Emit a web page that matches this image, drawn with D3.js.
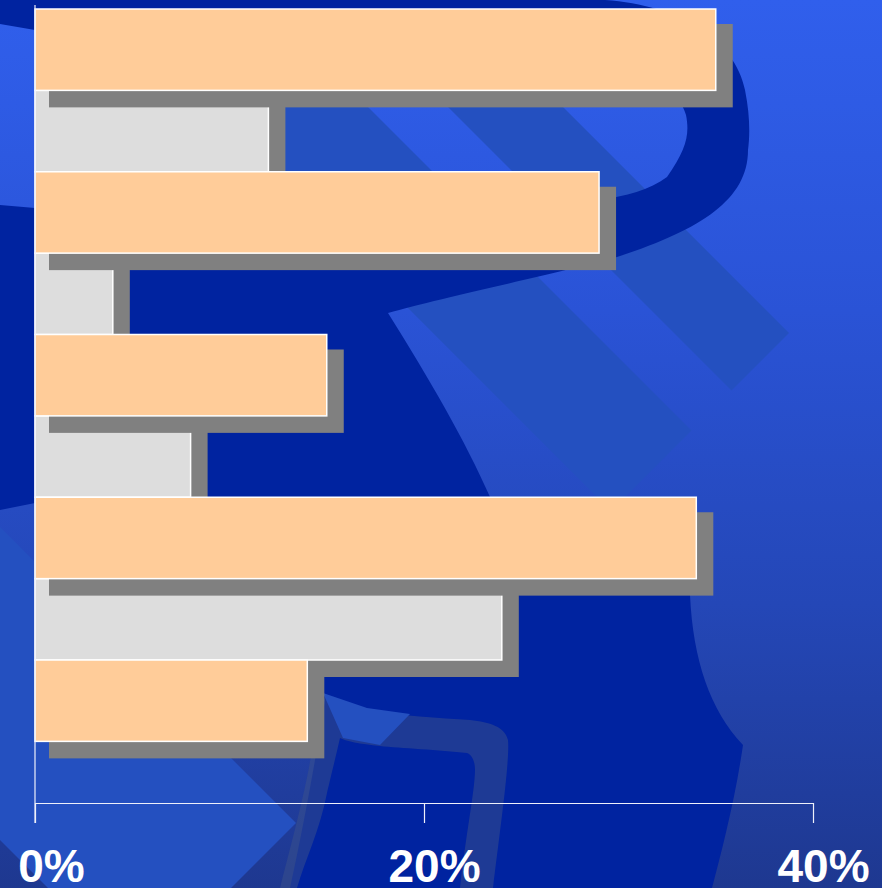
<!DOCTYPE html>
<html>
<head>
<meta charset="utf-8">
<script src="https://cdn.jsdelivr.net/npm/d3@7/dist/d3.min.js"></script>
<style>
    html, body { margin: 0; padding: 0; overflow: hidden; background: #2a50cf; }
    svg { display: block; }
    .x-axis text { font-family: 'Liberation Sans', Arial, Helvetica, sans-serif; font-weight: bold; }
</style>
</head>
<body>
<div id="chart"></div>
<script>
// Chart data (top group first)
const categories = ['Group 1', 'Group 2', 'Group 3', 'Group 4', 'Group 5'];
const seriesNames = ['Series 1', 'Series 2'];
const peachValues = [35, 29, 15, 34, 14];
const grayValues = [12, 4, 8, 24, null];
const xTickValues = [0, 20, 40];
const xTickLabels = ['0%', '20%', '40%'];

const width = 882;
const height = 888;
const dims = { left: 35, right: 813, top: 9, bottom: 822.75, axisY: 803 };
const colors = { peach: '#ffcc99', gray: '#dddddd', shadow: '#808080' };
const shadow = { dx: 14, dy: 15, dw: 3, dh: 2 };

const svg = d3
    .select('#chart')
    .append('svg')
    .attr('width', width)
    .attr('height', height)
    .attr('viewBox', `0 0 ${width} ${height}`);

// Background: gradient plus a stylised logo
const defs = svg.append('defs');
const grad = defs
    .append('linearGradient')
    .attr('id', 'bg')
    .attr('x1', 0)
    .attr('y1', 0)
    .attr('x2', 0)
    .attr('y2', 1);
[
    [0, '#305fec'],
    [0.35, '#2a53d6'],
    [0.68, '#2447b7'],
    [1, '#1e3890']
].forEach(([o, c]) => grad.append('stop').attr('offset', o).attr('stop-color', c));

const backdrop = svg.append('g').attr('class', 'backdrop');
backdrop.append('rect').attr('width', width).attr('height', height).attr('fill', 'url(#bg)');

// 45 degree stripes: between y = x + c1 and y = x + c2, cut off at x + y = tip
function stripe(c1, c2, tip) {
    const far = -1200;
    return `M${far},${far + c1}L${(tip - c1) / 2},${(tip + c1) / 2}` +
        `L${(tip - c2) / 2},${(tip + c2) / 2}L${far},${far + c2}Z`;
}
[
    [-456, -341, 1122],
    [-261, -100, 1122],
    [527, 840, 1119]
].forEach(([c1, c2, tip]) => {
    backdrop.append('path').attr('d', stripe(c1, c2, tip)).attr('fill', '#2450c0');
});

// Dark "R" shape with its upper hole
backdrop
    .append('path')
    .attr('fill-rule', 'evenodd')
    .attr('fill', '#0023a0')
    .attr(
        'd',
        'M0,0H605C680,5 735,40 745,90C750,115 750,135 748,150' +
        'C748,200 700,230 617,257C560,273 440,298 388,313' +
        'C430,380 465,440 490,497C505,535 515,565 525,595L690,595' +
        'C693,660 710,710 743,745C735,800 722,850 712,888L290,888' +
        'C305,820 318,745 325,700C290,600 150,500 35,503L0,510Z' +
        'M0,24L35,30C300,45 560,55 640,80C670,90 682,100 686,115' +
        'C690,135 686,150 667,177C650,190 625,196 600,200L35,208L0,205Z'
    );

// Translucent loop near the bottom
backdrop
    .append('path')
    .attr('fill', 'rgba(60,81,138,0.5)')
    .attr(
        'd',
        'M280,888C295,830 310,773 313,740C316,715 318,700 323,693' +
        'C340,702 355,709 367,710C400,716 440,718 470,720' +
        'C490,722 505,727 508,740C510,760 500,830 493,888L460,888' +
        'C465,840 475,790 475,770C475,760 471,754 467,753' +
        'C440,750 400,748 380,746C360,744 345,741 340,738' +
        'C335,760 330,780 327,793C320,830 305,860 297,888Z'
    );
backdrop
    .append('path')
    .attr('fill', '#2450c0')
    .attr('d', 'M323,693L343,738L380,745L410,714L367,708Z');

// Scales
const x = d3.scaleLinear().domain([0, 40]).range([dims.left, dims.right]);
const y = d3.scaleBand().domain(categories).range([dims.top, dims.bottom]).padding(0);
const ySub = d3.scaleBand().domain(seriesNames).range([0, y.bandwidth()]).padding(0);

const rows = (values, series) =>
    categories
        .map((cat, i) => ({ cat, series, value: values[i] }))
        .filter((d) => d.value != null);

function drawSeries(data, fill) {
    const g = svg.append('g');
    // drop shadow first, bar on top
    g.selectAll('rect.shadow')
        .data(data)
        .join('rect')
        .attr('class', 'shadow')
        .attr('x', x(0) + shadow.dx)
        .attr('y', (d) => y(d.cat) + ySub(d.series) + shadow.dy)
        .attr('width', (d) => x(d.value) - x(0) + shadow.dw)
        .attr('height', ySub.bandwidth() + shadow.dh)
        .attr('fill', colors.shadow);
    g.selectAll('rect.bar')
        .data(data)
        .join('rect')
        .attr('class', 'bar')
        .attr('x', x(0))
        .attr('y', (d) => y(d.cat) + ySub(d.series))
        .attr('width', (d) => x(d.value) - x(0))
        .attr('height', ySub.bandwidth())
        .attr('fill', fill)
        .attr('stroke', '#ffffff')
        .attr('stroke-width', 1.5);
}

// Gray series sits under the peach shadows
drawSeries(rows(grayValues, seriesNames[1]), colors.gray);
drawSeries(rows(peachValues, seriesNames[0]), colors.peach);

// Value axis
const xAxis = d3
    .axisBottom(x)
    .tickValues(xTickValues)
    .tickSize(20)
    .tickSizeOuter(0)
    .tickFormat((d, i) => xTickLabels[i]);
const axisG = svg
    .append('g')
    .attr('class', 'x-axis')
    .attr('transform', `translate(0, ${dims.axisY})`)
    .call(xAxis);
axisG.select('.domain').attr('stroke', '#eef0fa').attr('stroke-width', 1.2);
axisG.selectAll('.tick line').attr('stroke', '#eef0fa').attr('stroke-width', 1.2);
axisG
    .selectAll('.tick text')
    .attr('fill', '#ffffff')
    .attr('font-size', 46)
    .attr('y', 79)
    .attr('dy', 0)
    .attr('dx', (d, i) => (i === 0 ? 16 : 10));

// Category axis line
svg.append('line')
    .attr('x1', x(0))
    .attr('x2', x(0))
    .attr('y1', 5)
    .attr('y2', dims.axisY + 20)
    .attr('stroke', '#eef0fa')
    .attr('stroke-width', 1.2);
</script>
</body>
</html>
